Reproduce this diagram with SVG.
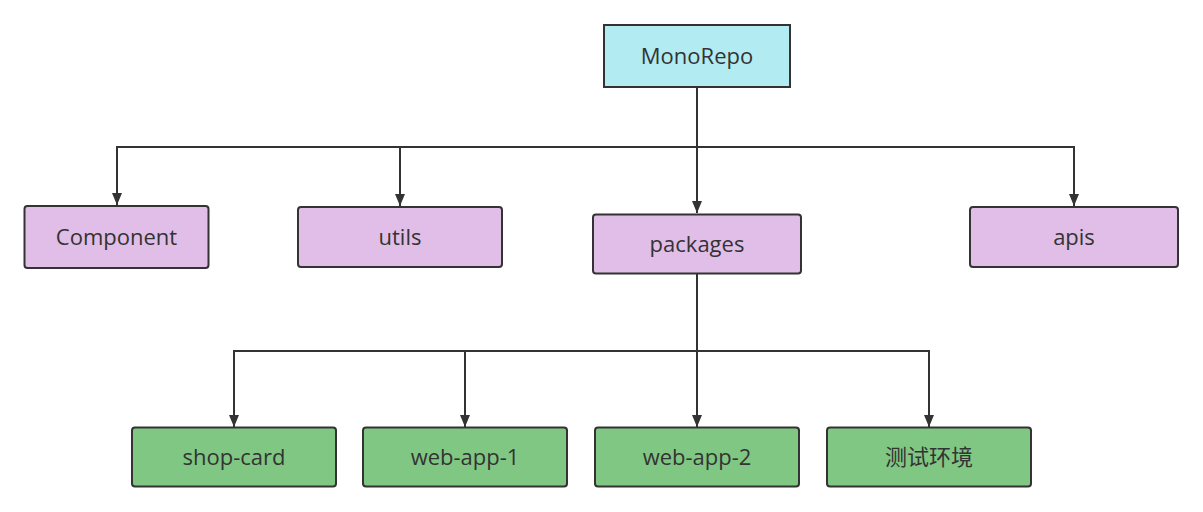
<svg xmlns="http://www.w3.org/2000/svg" width="1203" height="512" viewBox="0 0 1203 512">
<defs>
<marker id="arr" viewBox="0 0 12 10" refX="12" refY="5" markerWidth="12" markerHeight="10" markerUnits="userSpaceOnUse" orient="auto">
<path d="M0,0 L12,5 L0,10 z" fill="#333"/>
</marker>
<style>
.box{stroke:#333;stroke-width:2}
.root{fill:#b2ebf2}
.mid{fill:#e1bee7}
.leaf{fill:#81c784}
.lbl{font-family:"Open Sans","Noto Sans","Noto Sans CJK SC",sans-serif;font-size:22px;fill:#333;text-anchor:middle;dominant-baseline:central}
.con{fill:none;stroke:#333;stroke-width:2}
</style>
</defs>
<rect width="1203" height="512" fill="#fff"/>
<g id="connectors">
<path class="con" d="M697,87 V147 H117 V205" marker-end="url(#arr)"/>
<path class="con" d="M697,147 H400 V206" marker-end="url(#arr)"/>
<path class="con" d="M697,87 V213" marker-end="url(#arr)"/>
<path class="con" d="M697,147 H1074 V206" marker-end="url(#arr)"/>
<path class="con" d="M697,274 V351 H234 V427" marker-end="url(#arr)"/>
<path class="con" d="M697,351 H465 V427" marker-end="url(#arr)"/>
<path class="con" d="M697,274 V427" marker-end="url(#arr)"/>
<path class="con" d="M697,351 H929 V427" marker-end="url(#arr)"/>
</g>
<g id="monorepo"><rect class="box root" x="604" y="25" width="186" height="62"/><text class="lbl" x="697" y="55">MonoRepo</text></g>
<g id="component"><rect class="box mid" x="24.5" y="206" width="184" height="62" rx="3"/><text class="lbl" x="116.5" y="236">Component</text></g>
<g id="utils"><rect class="box mid" x="298" y="207" width="204" height="60" rx="3"/><text class="lbl" x="400" y="236">utils</text></g>
<g id="packages"><rect class="box mid" x="593" y="214.5" width="208" height="59" rx="3"/><text class="lbl" x="697" y="243">packages</text></g>
<g id="apis"><rect class="box mid" x="970" y="207" width="208" height="60" rx="3"/><text class="lbl" x="1074" y="236">apis</text></g>
<g id="shop-card"><rect class="box leaf" x="132" y="427.5" width="204" height="59" rx="3"/><text class="lbl" x="234" y="456">shop-card</text></g>
<g id="web-app-1"><rect class="box leaf" x="363" y="427.5" width="204" height="59" rx="3"/><text class="lbl" x="465" y="456">web-app-1</text></g>
<g id="web-app-2"><rect class="box leaf" x="595" y="427.5" width="204" height="59" rx="3"/><text class="lbl" x="697" y="456">web-app-2</text></g>
<g id="test-env"><rect class="box leaf" x="827" y="427.5" width="204" height="59" rx="3"/><text class="lbl" x="929" y="456">测试环境</text></g>
</svg>
